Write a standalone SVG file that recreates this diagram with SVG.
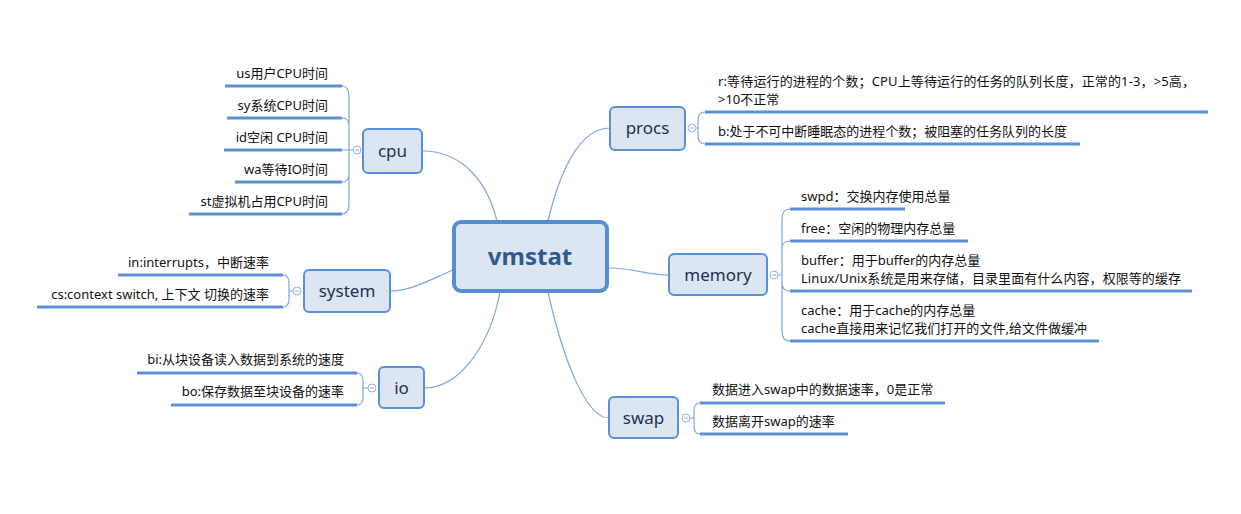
<svg xmlns="http://www.w3.org/2000/svg" width="1241" height="514" viewBox="0 0 1241 514">
<style>
.bg{fill:#ffffff}
.topic{fill:#dce6f2;stroke:#5b8fd6;stroke-width:2}
.central{fill:#dce6f2;stroke:#558ed5;stroke-width:4}
.ttext{font-family:"Noto Sans","Noto Sans CJK SC",sans-serif;font-size:17px;fill:#1f3050;text-anchor:middle}
.ctext{font-family:"Noto Sans","Noto Sans CJK SC",sans-serif;font-size:24px;font-weight:bold;fill:#2e5a8e;text-anchor:middle}
.leaf{font-family:"Noto Sans","Noto Sans CJK SC",sans-serif;font-size:13px;fill:#111}
.r{text-anchor:end}
.uline{stroke:#5b8fd6;stroke-width:3;fill:none}
.conn{stroke:#7ea6e0;stroke-width:1.2;fill:none}
.br{stroke:#7ea6e0;stroke-width:1.2;fill:none}
.knob{fill:#ffffff;stroke:#8fb2e3;stroke-width:1}
.minus{stroke:#8fb2e3;stroke-width:1}
</style>
<rect class="bg" x="0" y="0" width="1241" height="514"/>

<g id="connectors">
<path class="conn" d="M 422 151 C 465 151 488 185 497 221"/>
<path class="conn" d="M 548 221 C 560 170 580 128 610 128"/>
<path class="conn" d="M 608 268 C 635 268 645 275 669 275"/>
<path class="conn" d="M 453 270 C 425 282 410 291 390 291"/>
<path class="conn" d="M 500 292 C 490 345 460 388 424 388"/>
<path class="conn" d="M 548 292 C 562 355 585 418 609 418"/>
<path class="br" d="M 342 86 Q 349 86 349 96 L 349 204 Q 349 214 342 214 M 342 118 Q 349 118 349 126 M 342 182 Q 349 182 349 174 M 342 150 L 353 150"/>
<path class="br" d="M 705 112 Q 698 112 698 120 L 698 136 Q 698 144 705 144 M 696 128 L 698 128"/>
<path class="br" d="M 790 209 Q 782 209 782 219 L 782 331 Q 782 341 790 341 M 790 241 Q 782 241 782 249 M 790 291 Q 782 291 782 283 M 778 275 L 782 275"/>
<path class="br" d="M 700 403 Q 694 403 694 411 L 694 426 Q 694 434 700 434 M 690 418 L 694 418"/>
<path class="br" d="M 283 275 Q 289 275 289 283 L 289 299 Q 289 307 283 307 M 289 291 L 293 291"/>
<path class="br" d="M 357 373 Q 363 373 363 381 L 363 397 Q 363 405 357 405 M 363 388 L 368 388"/>
</g>

<g id="vmstat">
<rect class="central" x="454" y="222" width="153" height="69" rx="7"/>
<text class="ctext" x="530" y="265">vmstat</text>
</g>

<g id="cpu">
<rect class="topic" x="363" y="129" width="59" height="44" rx="5"/>
<text class="ttext" x="392.5" y="157">cpu</text>
<circle class="knob" cx="357" cy="150" r="4"/><line class="minus" x1="355" y1="150" x2="359" y2="150"/>
</g>
<g id="cpu-us"><text class="leaf r" x="328" y="78">us用户CPU时间</text><line class="uline" x1="225" y1="86" x2="342" y2="86"/></g>
<g id="cpu-sy"><text class="leaf r" x="328" y="110">sy系统CPU时间</text><line class="uline" x1="227" y1="118" x2="342" y2="118"/></g>
<g id="cpu-id"><text class="leaf r" x="328" y="142">id空闲 CPU时间</text><line class="uline" x1="224" y1="150" x2="342" y2="150"/></g>
<g id="cpu-wa"><text class="leaf r" x="328" y="174">wa等待IO时间</text><line class="uline" x1="235" y1="182" x2="342" y2="182"/></g>
<g id="cpu-st"><text class="leaf r" x="328" y="206">st虚拟机占用CPU时间</text><line class="uline" x1="189" y1="214" x2="342" y2="214"/></g>

<g id="procs">
<rect class="topic" x="610" y="107" width="75" height="43" rx="5"/>
<text class="ttext" x="647.5" y="134">procs</text>
<circle class="knob" cx="692" cy="128" r="4"/><line class="minus" x1="690" y1="128" x2="694" y2="128"/>
</g>
<g id="procs-r">
<text class="leaf" x="718" y="86" textLength="477" lengthAdjust="spacing">r:等待运行的进程的个数；CPU上等待运行的任务的队列长度，正常的1-3，&gt;5高，</text>
<text class="leaf" x="718" y="104">&gt;10不正常</text>
<line class="uline" x1="705" y1="112" x2="1208" y2="112"/>
</g>
<g id="procs-b">
<text class="leaf" x="718" y="136" textLength="349" lengthAdjust="spacing">b:处于不可中断睡眠态的进程个数；被阻塞的任务队列的长度</text>
<line class="uline" x1="705" y1="144" x2="1080" y2="144"/>
</g>

<g id="memory">
<rect class="topic" x="669" y="254" width="98" height="41" rx="5"/>
<text class="ttext" x="718" y="281">memory</text>
<circle class="knob" cx="774" cy="275" r="4"/><line class="minus" x1="772" y1="275" x2="776" y2="275"/>
</g>
<g id="mem-swpd"><text class="leaf" x="801" y="201">swpd：交换内存使用总量</text><line class="uline" x1="790" y1="209" x2="905" y2="209"/></g>
<g id="mem-free"><text class="leaf" x="801" y="233">free：空闲的物理内存总量</text><line class="uline" x1="790" y1="241" x2="968" y2="241"/></g>
<g id="mem-buffer">
<text class="leaf" x="801" y="265">buffer：用于buffer的内存总量</text>
<text class="leaf" x="801" y="283" textLength="380" lengthAdjust="spacing">Linux/Unix系统是用来存储，目录里面有什么内容，权限等的缓存</text>
<line class="uline" x1="790" y1="291" x2="1192" y2="291"/>
</g>
<g id="mem-cache">
<text class="leaf" x="801" y="315">cache：用于cache的内存总量</text>
<text class="leaf" x="801" y="333" textLength="286" lengthAdjust="spacing">cache直接用来记忆我们打开的文件,给文件做缓冲</text>
<line class="uline" x1="790" y1="341" x2="1099" y2="341"/>
</g>

<g id="swap">
<rect class="topic" x="609" y="397" width="69" height="41" rx="5"/>
<text class="ttext" x="643.5" y="424">swap</text>
<circle class="knob" cx="686" cy="418" r="4"/><line class="minus" x1="684" y1="418" x2="688" y2="418"/>
</g>
<g id="swap-in"><text class="leaf" x="712" y="394">数据进入swap中的数据速率，0是正常</text><line class="uline" x1="700" y1="403" x2="945" y2="403"/></g>
<g id="swap-out"><text class="leaf" x="712" y="426">数据离开swap的速率</text><line class="uline" x1="700" y1="434" x2="848" y2="434"/></g>

<g id="system">
<rect class="topic" x="304" y="270" width="86" height="42" rx="5"/>
<text class="ttext" x="347" y="297">system</text>
<circle class="knob" cx="297" cy="291" r="4"/><line class="minus" x1="295" y1="291" x2="299" y2="291"/>
</g>
<g id="sys-in"><text class="leaf r" x="269" y="267">in:interrupts，中断速率</text><line class="uline" x1="118" y1="275" x2="283" y2="275"/></g>
<g id="sys-cs"><text class="leaf r" x="269" y="299">cs:context switch, 上下文 切换的速率</text><line class="uline" x1="37" y1="307" x2="283" y2="307"/></g>

<g id="io">
<rect class="topic" x="379" y="367" width="45" height="41" rx="5"/>
<text class="ttext" x="401.5" y="394">io</text>
<circle class="knob" cx="372" cy="388" r="4"/><line class="minus" x1="370" y1="388" x2="374" y2="388"/>
</g>
<g id="io-bi"><text class="leaf r" x="344" y="364">bi:从块设备读入数据到系统的速度</text><line class="uline" x1="137" y1="373" x2="357" y2="373"/></g>
<g id="io-bo"><text class="leaf r" x="344" y="396">bo:保存数据至块设备的速率</text><line class="uline" x1="171" y1="405" x2="357" y2="405"/></g>
</svg>
